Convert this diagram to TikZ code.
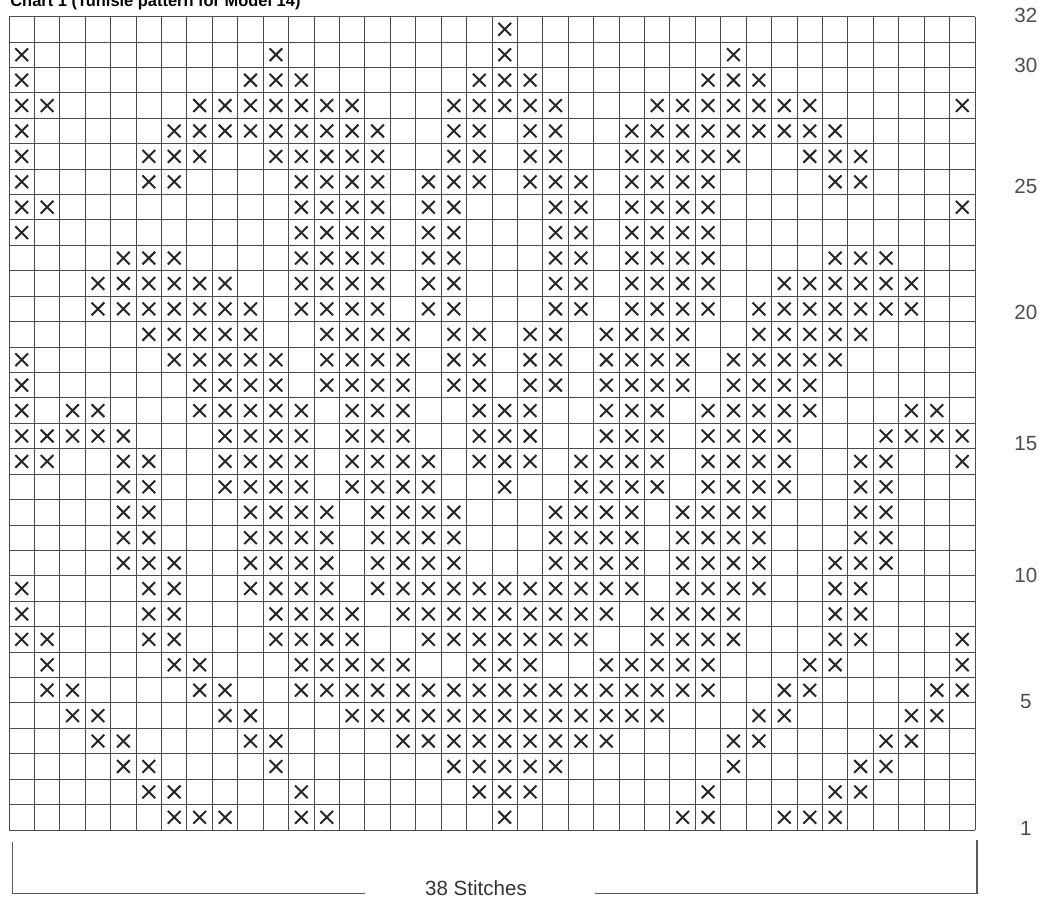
\documentclass[tikz,border=0pt]{standalone}
\usepackage{fontspec}
\setmainfont{Liberation Sans}
\usetikzlibrary{positioning}

\newcommand{\stitchrow}[2]{%
  \foreach \from/\upto in {#2}{%
    \foreach \col in {\from,...,\upto}{%
      \draw[stitch] (\col-0.75,#1-0.75) -- (\col-0.25,#1-0.25)
                    (\col-0.75,#1-0.25) -- (\col-0.25,#1-0.75);
    }%
  }%
}

\begin{document}
\begin{tikzpicture}[
    x=0.5cm, y=0.5cm,
    gridline/.style={draw=black!70, line width=0.5pt},
    stitch/.style={draw=black!85, line width=1.1pt},
    rowlabel/.style={text=black!70, font=\fontsize{11.5}{12}\selectfont, inner sep=0pt},
    charttitle/.style={font=\bfseries\fontsize{9.2}{11}\selectfont, inner sep=0pt},
    bracket/.style={draw=black!65, line width=0.6pt}
  ]
    \useasboundingbox (-0.354,-2.596) rectangle (40.519,32.652);
    \fill[white] (-0.354,-2.596) rectangle (40.519,32.652);

    \node[charttitle, anchor=base west] (title) at (0.04,32.38) {Chart 1 (Tunisie pattern for Model 14)};

    \foreach \i in {0,...,38}
      \draw[gridline] (\i,0) -- (\i,32);
    \foreach \j in {0,...,32}
      \draw[gridline] (0,\j) -- (38,\j);

    \stitchrow{32}{20/20}
    \stitchrow{31}{1/1, 11/11, 20/20, 29/29}
    \stitchrow{30}{1/1, 10/12, 19/21, 28/30}
    \stitchrow{29}{1/2, 8/14, 18/22, 26/32, 38/38}
    \stitchrow{28}{1/1, 7/15, 18/19, 21/22, 25/33}
    \stitchrow{27}{1/1, 6/8, 11/15, 18/19, 21/22, 25/29, 32/34}
    \stitchrow{26}{1/1, 6/7, 12/15, 17/19, 21/23, 25/28, 33/34}
    \stitchrow{25}{1/2, 12/15, 17/18, 22/23, 25/28, 38/38}
    \stitchrow{24}{1/1, 12/15, 17/18, 22/23, 25/28}
    \stitchrow{23}{5/7, 12/15, 17/18, 22/23, 25/28, 33/35}
    \stitchrow{22}{4/9, 12/15, 17/18, 22/23, 25/28, 31/36}
    \stitchrow{21}{4/10, 12/15, 17/18, 22/23, 25/28, 30/36}
    \stitchrow{20}{6/10, 13/16, 18/19, 21/22, 24/27, 30/34}
    \stitchrow{19}{1/1, 7/11, 13/16, 18/19, 21/22, 24/27, 29/33}
    \stitchrow{18}{1/1, 8/11, 13/16, 18/19, 21/22, 24/27, 29/32}
    \stitchrow{17}{1/1, 3/4, 8/12, 14/16, 19/21, 24/26, 28/32, 36/37}
    \stitchrow{16}{1/5, 9/12, 14/16, 19/21, 24/26, 28/31, 35/38}
    \stitchrow{15}{1/2, 5/6, 9/12, 14/17, 19/21, 23/26, 28/31, 34/35, 38/38}
    \stitchrow{14}{5/6, 9/12, 14/17, 20/20, 23/26, 28/31, 34/35}
    \stitchrow{13}{5/6, 10/13, 15/18, 22/25, 27/30, 34/35}
    \stitchrow{12}{5/6, 10/13, 15/18, 22/25, 27/30, 34/35}
    \stitchrow{11}{5/7, 10/13, 15/18, 22/25, 27/30, 33/35}
    \stitchrow{10}{1/1, 6/7, 10/13, 15/25, 27/30, 33/34}
    \stitchrow{9}{1/1, 6/7, 11/14, 16/24, 26/29, 33/34}
    \stitchrow{8}{1/2, 6/7, 11/14, 17/23, 26/29, 33/34, 38/38}
    \stitchrow{7}{2/2, 7/8, 12/16, 19/21, 24/28, 32/33, 38/38}
    \stitchrow{6}{2/3, 8/9, 12/28, 31/32, 37/38}
    \stitchrow{5}{3/4, 9/10, 14/26, 30/31, 36/37}
    \stitchrow{4}{4/5, 10/11, 16/24, 29/30, 35/36}
    \stitchrow{3}{5/6, 11/11, 18/22, 29/29, 34/35}
    \stitchrow{2}{6/7, 12/12, 19/21, 28/28, 33/34}
    \stitchrow{1}{7/9, 12/13, 20/20, 27/28, 31/33}

    \foreach \lbl/\ypos in {32/32.06, 30/30.09, 25/25.30, 20/20.38, 15/15.22, 10/10.03, 5/5.04, 1/0.08}
      \node[rowlabel] (row\lbl) at (40.0,\ypos) {\lbl};

    \coordinate (bl) at (0.12,-0.47);
    \coordinate (br) at (38.08,-0.39);
    \coordinate (gapl) at (14.0,-2.48);
    \coordinate (gapr) at (23.05,-2.48);
    \node[rowlabel, text=black!80, anchor=base] (stitches) at (18.37,-2.56) {38 Stitches};
    \draw[bracket] (bl) |- (gapl);
    \draw[bracket] (gapr) -| (br);
  \end{tikzpicture}
\end{document}
